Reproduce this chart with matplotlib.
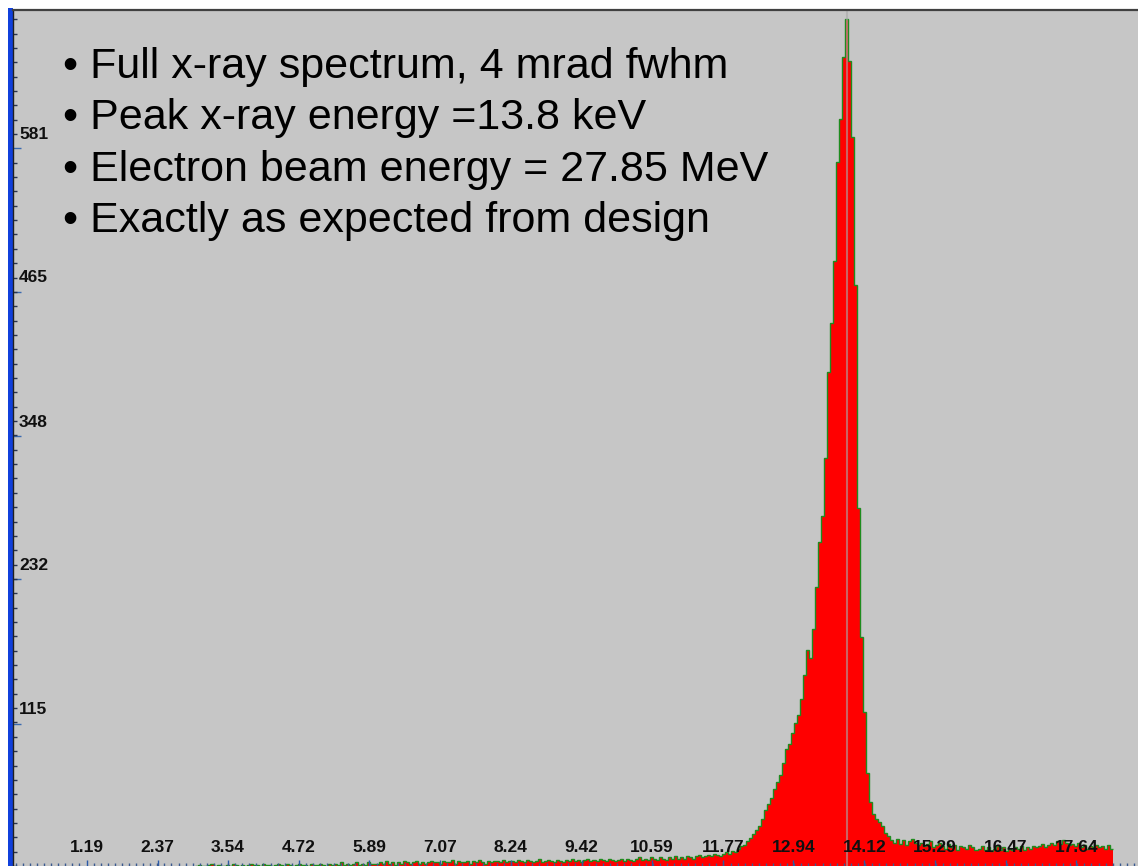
import matplotlib.pyplot as plt
import numpy as np
from matplotlib.patches import Rectangle

# x-ray spectrum, counts per 0.05 keV bin starting at 3.00 keV
bin_start = 3.0
bin_width = 0.05
counts_3 = [0, 1, 0, 0, 1, 2, 0, 1, 0, 0, 1, 0, 2, 1, 0, 1, 0, 1, 2, 1]
counts_4 = [1, 0, 2, 1, 1, 0, 1, 2, 1, 0, 2, 1, 0, 1, 2, 1, 1, 0, 2, 1]
counts_5 = [1, 2, 1, 0, 2, 1, 2, 1, 3, 1, 2, 1, 2, 3, 1, 2, 1, 3, 2, 2]
counts_6 = [2, 3, 2, 4, 2, 3, 1, 3, 2, 4, 3, 2, 3, 4, 2, 3, 2, 3, 4, 3]
counts_7 = [3, 2, 4, 3, 3, 5, 2, 4, 3, 3, 4, 2, 4, 3, 5, 3, 2, 4, 3, 4]
counts_8 = [4, 3, 5, 3, 4, 4, 3, 5, 4, 3, 5, 4, 3, 4, 6, 3, 4, 5, 4, 3]
counts_9 = [5, 4, 3, 5, 4, 6, 4, 5, 3, 5, 6, 4, 5, 4, 6, 5, 4, 6, 5, 4]
counts_10 = [5, 6, 4, 6, 5, 4, 6, 7, 5, 6, 5, 7, 6, 5, 7, 6, 5, 7, 6, 8]
counts_11 = [6, 7, 6, 8, 7, 6, 8, 9, 7, 8, 9, 8, 10, 9, 8, 10, 11, 10, 12, 11]
counts_12 = [14, 16, 17, 20, 23, 26, 29, 32, 38, 45, 50, 55, 62, 68, 74, 83, 95, 99, 108, 116]
counts_13 = [122, 135, 155, 175, 168, 192, 226, 262, 283, 330, 400, 440, 490, 570, 605, 655, 686, 652, 590, 470]
counts_14 = [290, 185, 125, 75, 52, 42, 38, 36, 32, 27, 24, 21, 19, 22, 18, 21, 17, 20, 22, 19]
counts_15 = [17, 19, 16, 18, 20, 15, 17, 19, 16, 14, 18, 15, 17, 13, 16, 15, 14, 17, 15, 13]
counts_16 = [14, 16, 13, 15, 12, 14, 16, 13, 15, 12, 14, 13, 15, 14, 16, 13, 15, 14, 16, 15]
counts_17 = [16, 18, 15, 17, 19, 17, 20, 18, 21, 19, 17, 18, 16, 19, 15, 17, 14, 16, 15, 17]
counts_18 = [15, 16, 14, 17, 14]

counts = (counts_3 + counts_4 + counts_5 + counts_6 + counts_7 + counts_8 + counts_9
          + counts_10 + counts_11 + counts_12 + counts_13 + counts_14 + counts_15
          + counts_16 + counts_17 + counts_18)
edges = bin_start + bin_width * np.arange(len(counts) + 1)

peak_kev = 13.83

x_ticks = [1.19, 2.37, 3.54, 4.72, 5.89, 7.07, 8.24, 9.42, 10.59, 11.77, 12.94, 14.12, 15.29, 16.47, 17.64]
x_labels = ['1.19', '2.37', '3.54', '4.72', '5.89', '7.07', '8.24', '9.42', '10.59', '11.77',
            '12.94', '14.12', '15.29', '16.47', '17.64']
y_ticks = [115, 232, 348, 465, 581]
y_labels = ['115', '232', '348', '465', '581']

bullets = ['Full x-ray spectrum, 4 mrad fwhm',
           'Peak x-ray energy =13.8 keV',
           'Electron beam energy = 27.85 MeV',
           'Exactly as expected from design']

plt.rcParams['font.family'] = ['Liberation Sans', 'DejaVu Sans']

W, H = 1138, 866
fig = plt.figure(figsize=(W / 100, H / 100), dpi=100, facecolor='white')
ax = fig.add_axes([13 / W, 0, 1 - 13 / W, (H - 10) / H])
ax.set_facecolor('#c6c6c6')

# blue strip on the left edge of the window
fig.add_artist(Rectangle((8 / W, 0), 5 / W, (H - 8) / H, transform=fig.transFigure,
                         facecolor='#1040dc', edgecolor='none', zorder=0))

# filled spectrum with green outline
ax.stairs(counts, edges, fill=True, color='#ff0000', baseline=0)
ax.stairs(counts, edges, color='#1e8c1e', lw=1.0, baseline=None)

# cursor line through the peak
ax.axvline(peak_kev, color='#a8a8a8', alpha=0.6, lw=1.5)

ax.set_xlim(-0.033, 18.668)
ax.set_ylim(0, 693)

for side in ['right', 'bottom']:
    ax.spines[side].set_visible(False)
ax.spines['top'].set_color('#404040')
ax.spines['top'].set_linewidth(1.6)
ax.spines['left'].set_color('#202020')
ax.spines['left'].set_linewidth(1.0)

# x ticks along the bottom, labels drawn inside the plot
x_minor = x_ticks[0] + 0.11764 * np.arange(-10, 150)
ax.set_xticks(x_ticks)
ax.set_xticks(x_minor[x_minor < 18.66], minor=True)
ax.tick_params(axis='x', which='major', direction='in', length=4.5, width=1, color='#2a5aa8',
               labelbottom=False)
ax.tick_params(axis='x', which='minor', direction='in', length=2.2, width=1, color='#3a5a90')
for xv, lbl in zip(x_ticks, x_labels):
    ax.annotate(lbl, xy=(xv, 0), xycoords=('data', 'axes fraction'), xytext=(0, 18),
                textcoords='offset pixels', ha='center', va='center',
                fontsize=12.5, fontweight='bold', color='#101010')

# y ticks on the left, labels just above each tick
ax.set_yticks(y_ticks)
ax.set_yticks(np.arange(0, 693, 11.62), minor=True)
ax.tick_params(axis='y', which='major', direction='in', length=6, width=1, color='#3a6ab0',
               labelleft=False)
ax.tick_params(axis='y', which='minor', direction='in', length=3, width=1, color='#2a3550')
for yv, lbl in zip(y_ticks, y_labels):
    ax.annotate(lbl, xy=(0, yv), xycoords=('axes fraction', 'data'), xytext=(6, 14),
                textcoords='offset pixels', ha='left', va='center',
                fontsize=12.5, fontweight='bold', color='#101010')

# bullet text
for i, line in enumerate(bullets):
    baseline = 78 + 51.3 * i
    fig.text(63 / W, (H - baseline) / H, '\u2022 ' + line, fontsize=31,
             ha='left', va='baseline', color='black')

fig.savefig('out.png', dpi=100, facecolor='white')
